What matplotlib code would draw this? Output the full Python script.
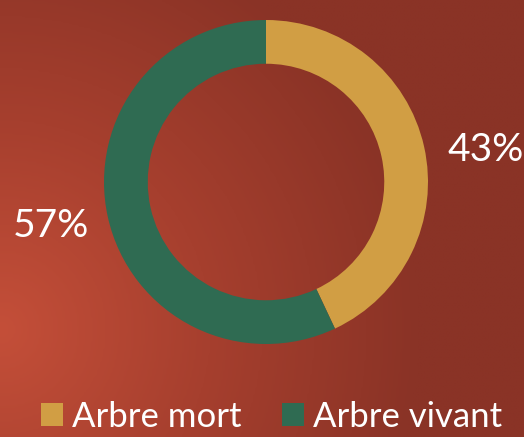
import numpy as np
import matplotlib
matplotlib.use('Agg')
import matplotlib.pyplot as plt
from matplotlib.colors import LinearSegmentedColormap

# Chart data
labels = ['Arbre mort', 'Arbre vivant']
values = [43, 57]
colors = ['#d19e44', '#2f6b52']

plt.rcParams['font.family'] = ['Lato', 'DejaVu Sans']

W, H = 524, 437
fig = plt.figure(figsize=(W / 100, H / 100), dpi=100)
ax = fig.add_axes([0, 0, 1, 1])

# pixel layout: donut center and radius
cx, cy, r = 266, 182, 162
xlim = (-cx / r, (W - cx) / r)
ylim = ((cy - H) / r, cy / r)
ax.set_xlim(*xlim)
ax.set_ylim(*ylim)

# Background: radial gradient, bright at lower left
gx, gy = np.meshgrid(np.linspace(0, W, 300), np.linspace(0, H, 250))
d = np.sqrt((gx - 0) ** 2 + (gy - 330) ** 2) / 420.0
d = np.clip(d, 0, 1)
bg_cmap = LinearSegmentedColormap.from_list('bg', ['#c44f39', '#a63f2e', '#8a3326'])
ax.imshow(d, cmap=bg_cmap, extent=(xlim[0], xlim[1], ylim[0], ylim[1]),
          origin='upper', aspect='auto', zorder=0, interpolation='bilinear')

wedges, texts, autotexts = ax.pie(values, colors=colors, startangle=90,
                                  counterclock=False, radius=1.0,
                                  autopct='%1.0f%%', pctdistance=1.37,
                                  wedgeprops=dict(width=0.27, linewidth=0),
                                  textprops=dict(color='white', fontsize=28))
# nudge the labels a little, like the original
x0, y0 = autotexts[0].get_position()
autotexts[0].set_position((x0 + 0.02, y0 - 0.1))
x1, y1 = autotexts[1].get_position()
autotexts[1].set_position((x1 + 0.012, y1 + 0.03))

ax.set_xlim(*xlim)
ax.set_ylim(*ylim)
ax.set_aspect('auto')
ax.axis('off')

# legend sits right at the bottom edge
leg = ax.legend(wedges, labels, loc='lower center', bbox_to_anchor=(0.518, -0.062),
                ncol=2, frameon=False, fontsize=25, labelcolor='white',
                handlelength=0.65, handleheight=0.65, handletextpad=0.25,
                columnspacing=1.15)

fig.savefig('out.png', dpi=100)
